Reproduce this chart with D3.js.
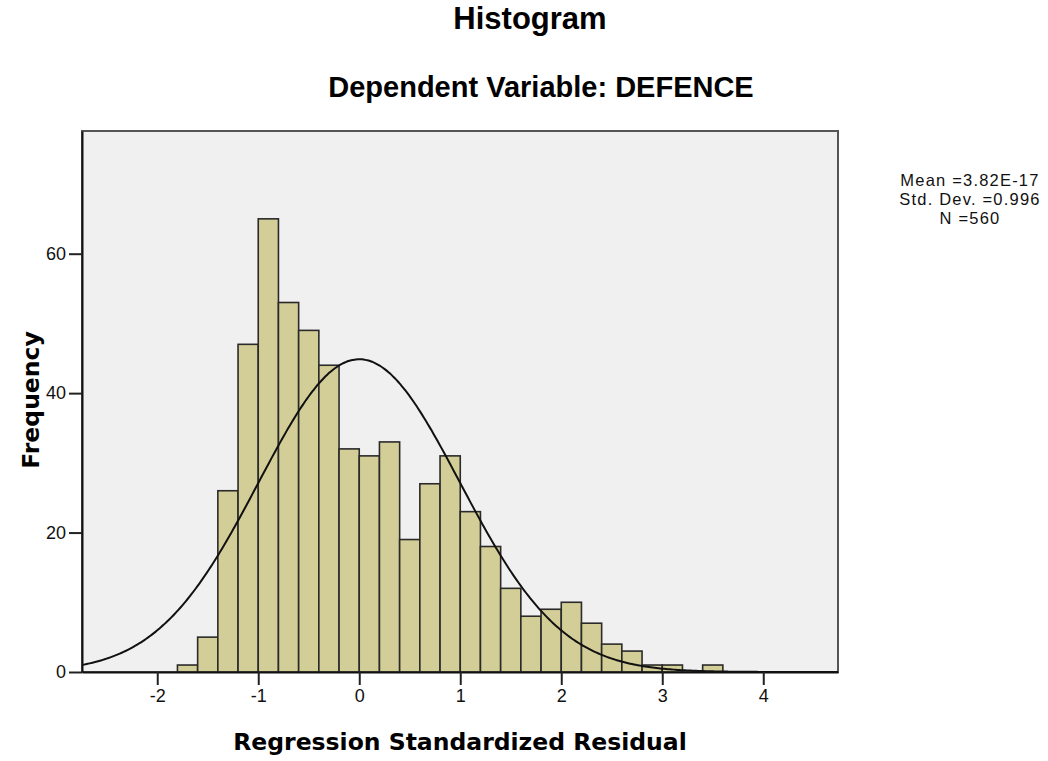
<!DOCTYPE html>
<html>
<head>
<meta charset="utf-8">
<script src="https://cdn.jsdelivr.net/npm/d3@7"></script>
<style>
  body { margin: 0; background: #fff; }
  svg { display: block; }
</style>
</head>
<body>
<svg width="1048" height="761"></svg>
<script>
// bin lower edges and counts
var binLow = [-1.8, -1.6, -1.4, -1.2, -1.0, -0.8, -0.6, -0.4, -0.2, 0.0,
              0.2, 0.4, 0.6, 0.8, 1.0, 1.2, 1.4, 1.6, 1.8, 2.0,
              2.2, 2.4, 2.6, 2.8, 3.0, 3.2, 3.4];
var counts = [1, 5, 26, 47, 65, 53, 49, 44, 32, 31,
              33, 19, 27, 31, 23, 18, 12, 8, 9, 10,
              7, 4, 3, 1, 1, 0, 1];
var binWidth = 0.2;

var xTicks = [-2, -1, 0, 1, 2, 3, 4];
var yTicks = [0, 20, 40, 60];

var statMean = 3.82e-17, statSd = 0.996, statN = 560;
var statLines = ["Mean =3.82E-17", "Std. Dev. =0.996", "N =560"];

var svg = d3.select("svg"),
    margin = {top: 131, right: 210, bottom: 89, left: 82},
    width = +svg.attr("width") - margin.left - margin.right,
    height = +svg.attr("height") - margin.top - margin.bottom,
    g = svg.append("g").attr("transform", "translate(" + margin.left + "," + margin.top + ")");

var x = d3.scaleLinear()
    .domain([-2.745, 4.74])
    .range([0, width]);

var y = d3.scaleLinear()
    .domain([0, 77.6])
    .range([height, 0]);

// plot background
g.append("rect")
    .attr("width", width)
    .attr("height", height)
    .attr("fill", "#f0f0f0")
    .attr("stroke", "#555")
    .attr("stroke-width", 2);

g.append("clipPath").attr("id", "clip")
  .append("rect").attr("width", width).attr("height", height);

var bins = binLow.map(function(d, i) { return {x0: d, x1: d + binWidth, n: counts[i]}; })
    .filter(function(d) { return d.n > 0; });

g.append("g")
  .selectAll("rect")
  .data(bins)
  .enter().append("rect")
    .attr("x", function(d) { return x(d.x0); })
    .attr("y", function(d) { return y(d.n); })
    .attr("width", function(d) { return x(d.x1) - x(d.x0); })
    .attr("height", function(d) { return y(0) - y(d.n); })
    .attr("fill", "#d3ce97")
    .attr("stroke", "#2a2a2a")
    .attr("stroke-width", 1.6);

// fitted normal curve
var scaleN = statN * binWidth / (statSd * Math.sqrt(2 * Math.PI));
var curveXs = d3.range(0, 401).map(function(i) { return x.domain()[0] + i * (x.domain()[1] - x.domain()[0]) / 400; });
var line = d3.line()
    .x(function(d) { return x(d); })
    .y(function(d) { var z = (d - statMean) / statSd; return y(scaleN * Math.exp(-0.5 * z * z)); })
    .curve(d3.curveBasis);

g.append("path")
    .attr("clip-path", "url(#clip)")
    .attr("d", line(curveXs))
    .attr("fill", "none")
    .attr("stroke", "#111")
    .attr("stroke-width", 2);

// axes
var xAxis = g.append("g")
    .attr("transform", "translate(0," + height + ")")
    .call(d3.axisBottom(x).tickValues(xTicks).tickSizeInner(13).tickSizeOuter(0).tickPadding(4)
      .tickFormat(function(d) { return d; }));
xAxis.select(".domain").attr("stroke", "#111").attr("stroke-width", 2);
xAxis.selectAll(".tick line").attr("stroke", "#222").attr("stroke-width", 2);
xAxis.selectAll("text").attr("font-family", "Liberation Sans, Arial, sans-serif")
    .attr("font-size", 18).attr("fill", "#111");

var yAxis = g.append("g")
    .call(d3.axisLeft(y).tickValues(yTicks).tickSizeInner(13).tickSizeOuter(0).tickPadding(3));
yAxis.select(".domain").attr("stroke", "#111").attr("stroke-width", 2);
yAxis.selectAll(".tick line").attr("stroke", "#222").attr("stroke-width", 2);
yAxis.selectAll("text").attr("font-family", "Liberation Sans, Arial, sans-serif")
    .attr("font-size", 18).attr("fill", "#111");

// titles
svg.append("text")
    .attr("x", 530).attr("y", 29)
    .attr("text-anchor", "middle")
    .attr("font-family", "Liberation Sans, Arial, sans-serif")
    .attr("font-weight", "bold")
    .attr("font-size", 31)
    .text("Histogram");

svg.append("text")
    .attr("x", 541).attr("y", 97)
    .attr("text-anchor", "middle")
    .attr("font-family", "Liberation Sans, Arial, sans-serif")
    .attr("font-weight", "bold")
    .attr("font-size", 29)
    .text("Dependent Variable: DEFENCE");

svg.append("text")
    .attr("x", margin.left + width / 2).attr("y", 750)
    .attr("text-anchor", "middle")
    .attr("font-family", "DejaVu Sans, Verdana, sans-serif")
    .attr("font-weight", "bold")
    .attr("font-size", 23.5)
    .text("Regression Standardized Residual");

svg.append("text")
    .attr("transform", "translate(39,400) rotate(-90)")
    .attr("text-anchor", "middle")
    .attr("font-family", "DejaVu Sans, Verdana, sans-serif")
    .attr("font-weight", "bold")
    .attr("font-size", 23.5)
    .text("Frequency");

// stats box
svg.append("g")
  .selectAll("text")
  .data(statLines)
  .enter().append("text")
    .attr("x", 970)
    .attr("y", function(d, i) { return 186 + i * 19; })
    .attr("text-anchor", "middle")
    .attr("font-family", "Liberation Sans, Arial, sans-serif")
    .attr("font-size", 16.5)
    .attr("letter-spacing", 1.2)
    .attr("fill", "#111")
    .text(function(d) { return d; });
</script>
</body>
</html>
